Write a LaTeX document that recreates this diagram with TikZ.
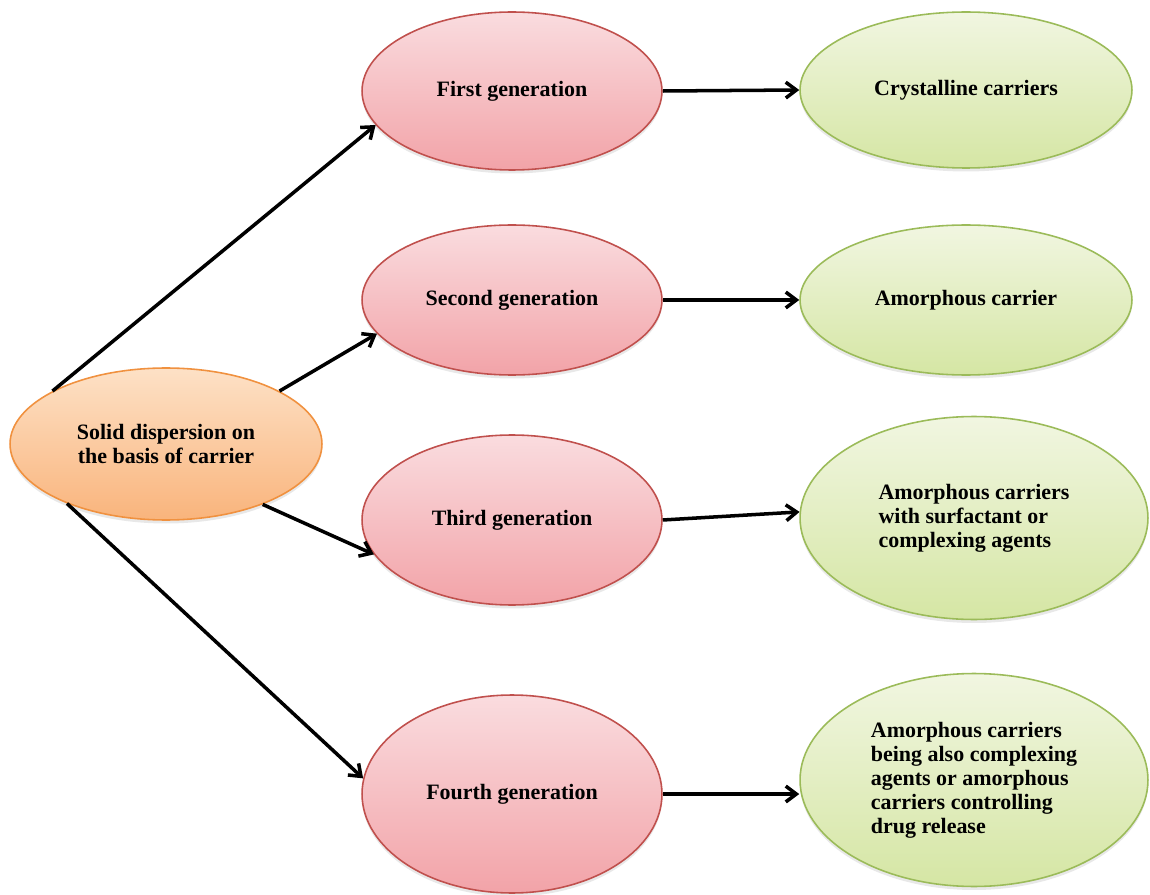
\documentclass[tikz,border=0pt]{standalone}
\usepackage{fontspec}
\setmainfont{Liberation Serif}
\usepackage{tikz}
\usetikzlibrary{arrows.meta, shapes.geometric, shadows}

\definecolor{genline}{HTML}{C0504D}
\definecolor{gentop}{HTML}{FADCDF}
\definecolor{genbot}{HTML}{F2A3A8}
\definecolor{srcline}{HTML}{F0913F}
\definecolor{srctop}{HTML}{FDE1C6}
\definecolor{srcbot}{HTML}{F9B47C}
\definecolor{carline}{HTML}{9BBB59}
\definecolor{cartop}{HTML}{F1F6E1}
\definecolor{carbot}{HTML}{D5E6A4}

\begin{document}
\begin{tikzpicture}[
    x=0.02cm, y=-0.02cm,
    every node/.style={font=\fontsize{12.5}{13.7}\selectfont\bfseries},
    blob/.style={ellipse, inner sep=0pt, line width=0.9pt,
      drop shadow={opacity=0.18, shadow xshift=0pt, shadow yshift=-2pt}},
    src/.style={blob, draw=srcline, top color=srctop, bottom color=srcbot,
      align=center, minimum width=6.24cm, minimum height=3.04cm},
    gen/.style={blob, draw=genline, top color=gentop, bottom color=genbot,
      minimum width=6cm},
    carrier/.style={blob, draw=carline, top color=cartop, bottom color=carbot},
    link/.style={line width=2pt, -{Straight Barb[length=6pt, width=9pt]}},
  ]
  \useasboundingbox (0,0) rectangle (1150,895);

  % root
  \node[src] (src) at (166,444) {Solid dispersion on\\the basis of carrier};

  % generations
  \node[gen, minimum height=3.16cm] (gen1) at (512,91)  {First generation};
  \node[gen, minimum height=3cm]    (gen2) at (512,300) {Second generation};
  \node[gen, minimum height=3.4cm]  (gen3) at (512,520) {Third generation};
  \node[gen, minimum height=3.96cm] (gen4) at (512,794) {Fourth generation};

  % carriers
  \node[carrier, minimum width=6.64cm, minimum height=3.12cm] (car1) at (966,90)
    {Crystalline carriers};
  \node[carrier, minimum width=6.64cm, minimum height=3cm] (car2) at (966,300)
    {Amorphous carrier};
  \node[carrier, align=left, minimum width=6.96cm, minimum height=4.06cm] (car3) at (974,518)
    {Amorphous carriers\\with surfactant or\\complexing agents};
  \node[carrier, align=left, minimum width=6.96cm, minimum height=4.26cm] (car4) at (974,780)
    {Amorphous carriers\\being also complexing\\agents or amorphous\\carriers controlling\\drug release};

  % connectors
  \draw[link] (src.155) -- (gen1.194);
  \draw[link] (src.25)  -- (gen2.194);
  \draw[link] (src.-32) -- (gen3.194);
  \draw[link] (src.211) -- (gen4.174);

  \draw[link] (gen1.east) -- (car1.west);
  \draw[link] (gen2.east) -- (car2.west);
  \draw[link] (gen3.east) -- (car3.178);
  \draw[link] (gen4.east) -- (car4.west |- gen4.east);
\end{tikzpicture}
\end{document}
